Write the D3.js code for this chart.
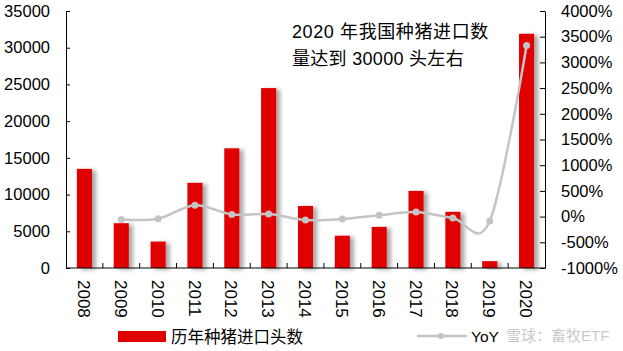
<!DOCTYPE html>
<html>
<head>
<meta charset="utf-8">
<script src="https://cdn.jsdelivr.net/npm/d3@7"></script>
<style>
  body { margin: 0; background: #fff; }
  text { font-family: "Liberation Sans", Arial, "Noto Sans CJK SC", sans-serif; }
</style>
</head>
<body>
<svg id="chart" width="623" height="351"></svg>
<script>
const years = ['2008', '2009', '2010', '2011', '2012', '2013', '2014', '2015', '2016', '2017', '2018', '2019', '2020'];
const imports = [13500, 6100, 3600, 11600, 16300, 24500, 8450, 4400, 5600, 10500, 7650, 930, 31900];
const yoy = [null, -55, -41, 222, 41, 50, -66, -48, 27, 88, -27, -88, 3330];
const leftTicks = [0, 5000, 10000, 15000, 20000, 25000, 30000, 35000];
const rightTicks = [-1000, -500, 0, 500, 1000, 1500, 2000, 2500, 3000, 3500, 4000];

const svg = d3.select('#chart');
const margin = { top: 11, right: 78, bottom: 83, left: 66 };
const width = 623 - margin.left - margin.right;
const height = 351 - margin.top - margin.bottom;

const defs = svg.append('defs');
const shadow = defs.append('filter').attr('id', 'shadow')
  .attr('x', '-30%').attr('y', '-10%').attr('width', '180%').attr('height', '130%');
shadow.append('feDropShadow')
  .attr('dx', 4).attr('dy', 1.5).attr('stdDeviation', 2)
  .attr('flood-color', '#000').attr('flood-opacity', 0.35);

const g = svg.append('g').attr('transform', `translate(${margin.left},${margin.top})`);

const x = d3.scaleBand().domain(years).range([0, width]).paddingInner(0.59).paddingOuter(0.295);
const xb = d3.scaleBand().domain(years).range([0, width]);
const yL = d3.scaleLinear().domain([0, 35000]).range([height, 0]);
const yR = d3.scaleLinear().domain([-1000, 4000]).range([height, 0]);

// bars
g.selectAll('rect.bar')
  .data(years)
  .enter()
  .append('rect')
  .attr('class', 'bar')
  .attr('x', d => x(d))
  .attr('y', (d, i) => yL(imports[i]))
  .attr('width', x.bandwidth())
  .attr('height', (d, i) => height - yL(imports[i]))
  .attr('fill', '#E00000')
  .attr('filter', 'url(#shadow)');

// left axis
const axL = g.append('g')
  .call(d3.axisLeft(yL).tickValues(leftTicks).tickFormat(d3.format('d')).tickSizeInner(-4).tickSizeOuter(0).tickPadding(16));
axL.selectAll('text').attr('font-size', 16.5).attr('fill', '#000').attr('font-family', '"Liberation Sans", Arial, sans-serif');

// right axis
const axR = g.append('g').attr('transform', `translate(${width},0)`)
  .call(d3.axisRight(yR).tickValues(rightTicks).tickFormat(d => d + '%').tickSizeInner(-5).tickSizeOuter(0).tickPadding(16));
axR.selectAll('text').attr('font-size', 16.5).attr('fill', '#000').attr('font-family', '"Liberation Sans", Arial, sans-serif');

// bottom axis: ticks between categories
const axB = g.append('g').attr('transform', `translate(0,${height})`);
axB.append('line').attr('x1', 0).attr('x2', width).attr('stroke', '#000');
axB.selectAll('line.tk')
  .data(years.slice(1))
  .enter()
  .append('line')
  .attr('class', 'tk')
  .attr('x1', d => xb(d)).attr('x2', d => xb(d))
  .attr('y1', 0).attr('y2', -5)
  .attr('stroke', '#000');
axB.selectAll('text')
  .data(years)
  .enter()
  .append('text')
  .attr('transform', d => `translate(${x(d) + x.bandwidth() / 2 - 0.5},12) rotate(90)`)
  .attr('dy', '0.35em')
  .attr('font-size', 17)
  .text(d => d);
g.selectAll('.domain').attr('stroke', '#000');
g.selectAll('.tick line').attr('stroke', '#000');

// YoY line
const pts = years.map((d, i) => ({ year: d, v: yoy[i] })).filter(d => d.v !== null);
const line = d3.line()
  .x(d => x(d.year) + x.bandwidth() / 2)
  .y(d => yR(d.v))
  .curve(d3.curveCatmullRom.alpha(0));
g.append('path')
  .datum(pts)
  .attr('d', line)
  .attr('fill', 'none')
  .attr('stroke', '#C4C4C4')
  .attr('stroke-width', 2.5);
g.selectAll('circle.pt')
  .data(pts)
  .enter()
  .append('circle')
  .attr('cx', d => x(d.year) + x.bandwidth() / 2)
  .attr('cy', d => yR(d.v))
  .attr('r', 3.5)
  .attr('fill', '#C4C4C4');

// annotation
svg.append('text').attr('x', 292).attr('y', 38).attr('font-size', 18)
  .attr('font-family', '"Noto Sans CJK SC", sans-serif')
  .attr('letter-spacing', 0.6)
  .text('2020  年我国种猪进口数');
svg.append('text').attr('x', 292).attr('y', 65).attr('font-size', 18)
  .attr('font-family', '"Noto Sans CJK SC", sans-serif')
  .attr('letter-spacing', 0.3)
  .text('量达到 30000 头左右');

// legend
svg.append('rect').attr('x', 118).attr('y', 331).attr('width', 48).attr('height', 11).attr('fill', '#E00000');
svg.append('text').attr('x', 171).attr('y', 343).attr('font-size', 16.5)
  .attr('font-family', '"Noto Sans CJK SC", sans-serif')
  .text('历年种猪进口头数');
svg.append('line').attr('x1', 417).attr('x2', 467).attr('y1', 336).attr('y2', 336)
  .attr('stroke', '#C4C4C4').attr('stroke-width', 2.5);
svg.append('circle').attr('cx', 441).attr('cy', 336).attr('r', 3).attr('fill', '#C4C4C4');
svg.append('text').attr('x', 471).attr('y', 342).attr('font-size', 15.5).text('YoY');

// watermark
svg.append('text').attr('x', 506).attr('y', 341).attr('font-size', 15)
  .attr('font-family', '"Noto Sans CJK SC", sans-serif')
  .attr('fill', '#bbb').attr('fill-opacity', 0.8)
  .text('雪球：畜牧ETF');
</script>
</body>
</html>
